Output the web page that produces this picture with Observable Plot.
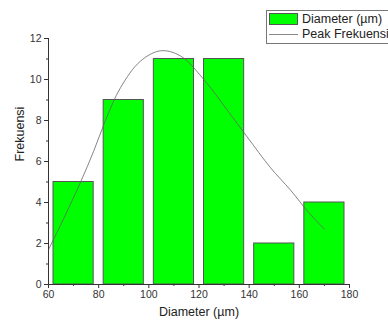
<!DOCTYPE html>
<html>
<head>
<meta charset="utf-8">
<script src="https://cdn.jsdelivr.net/npm/d3@7"></script>
<script src="https://cdn.jsdelivr.net/npm/@observablehq/plot@0.6"></script>
<style>
body { margin: 0; background: #fff; font-family: "Liberation Sans", Arial, sans-serif; }
#wrap { position: relative; width: 388px; height: 327px; overflow: hidden; }
#legend { position: absolute; left: 266px; top: 10px; width: 140px; height: 34px; border: 1px solid #777; background: #fff; font-size: 12.5px; color: #222; box-sizing: border-box; }
#legend .row { position: absolute; left: 2px; height: 14px; }
#legend .sw { position: absolute; left: 0; top: 1px; width: 29px; height: 12px; background: #00ff00; border: 1px solid #555; box-sizing: border-box; }
#legend .ln { position: absolute; left: 0; width: 29px; top: 7px; border-top: 1px solid #888; }
#legend .tx { position: absolute; left: 33px; top: 0; white-space: nowrap; line-height: 14px; }
</style>
</head>
<body>
<div id="wrap"><div id="chart"></div>
<div id="legend">
  <div class="row" style="top:1px"><div class="sw"></div><div class="tx">Diameter (µm)</div></div>
  <div class="row" style="top:16px"><div class="ln"></div><div class="tx">Peak Frekuensi</div></div>
</div>
</div>
<script>
const binLo = [60, 80, 100, 120, 140, 160];
const binHi = [80, 100, 120, 140, 160, 180];
const counts = [5, 9, 11, 11, 2, 4];
const curveX = [60, 66, 72.8, 78, 82.7, 88.7, 96.7, 104.7, 112.6, 122.6, 131.3, 139.2, 148.5, 156.5, 163.8, 170];
const curveY = [1.7, 3.2, 5.0, 6.5, 8.0, 9.6, 10.9, 11.4, 11.15, 9.9, 8.5, 7.2, 5.7, 4.6, 3.5, 2.7];
const xTicks = [60, 80, 100, 120, 140, 160, 180];
const xMinor = [70, 90, 110, 130, 150, 170];
const yTicks = [0, 2, 4, 6, 8, 10, 12];
const yMinor = [1, 3, 5, 7, 9, 11];

const bars = binLo.map((lo, i) => ({lo, hi: binHi[i], n: counts[i]}));
const curve = curveX.map((x, i) => ({x, y: curveY[i]}));

const chart = Plot.plot({
  width: 388,
  height: 327,
  marginLeft: 48,
  marginRight: 39,
  marginTop: 38,
  marginBottom: 43,
  style: {fontFamily: "'Liberation Sans', Arial, sans-serif", fontSize: "10.5px", color: "#333", background: "#fff"},
  x: {domain: [60, 180]},
  y: {domain: [0, 12]},
  marks: [
    Plot.rectY(bars, {x1: "lo", x2: "hi", y: "n", fill: "#00ff00", stroke: "#555", strokeWidth: 1, insetLeft: 5, insetRight: 5}),
    Plot.line(curve, {x: "x", y: "y", curve: "catmull-rom", stroke: "#666", strokeWidth: 0.8}),
    Plot.axisX({ticks: xTicks, tickSize: 4, tickPadding: 2, stroke: "#333", fill: "#333", fontSize: 10.5, label: null}),
    Plot.axisX({ticks: xMinor, tickSize: 2, text: null, stroke: "#333", label: null}),
    Plot.axisY({ticks: yTicks, tickSize: 4, tickPadding: 3, stroke: "#333", fill: "#333", fontSize: 10.5, label: null}),
    Plot.axisY({ticks: yMinor, tickSize: 2, text: null, stroke: "#333", label: null}),
    Plot.ruleX([60], {stroke: "#333"}),
    Plot.ruleY([0], {stroke: "#333"}),
    Plot.text(["Diameter (µm)"], {frameAnchor: "bottom", dy: 31, fontSize: 12.5, fill: "#222"}),
    Plot.text(["Frekuensi"], {frameAnchor: "left", dx: -29, rotate: -90, fontSize: 12.5, fill: "#222"})
  ]
});
document.getElementById("chart").append(chart);
</script>
</body>
</html>
